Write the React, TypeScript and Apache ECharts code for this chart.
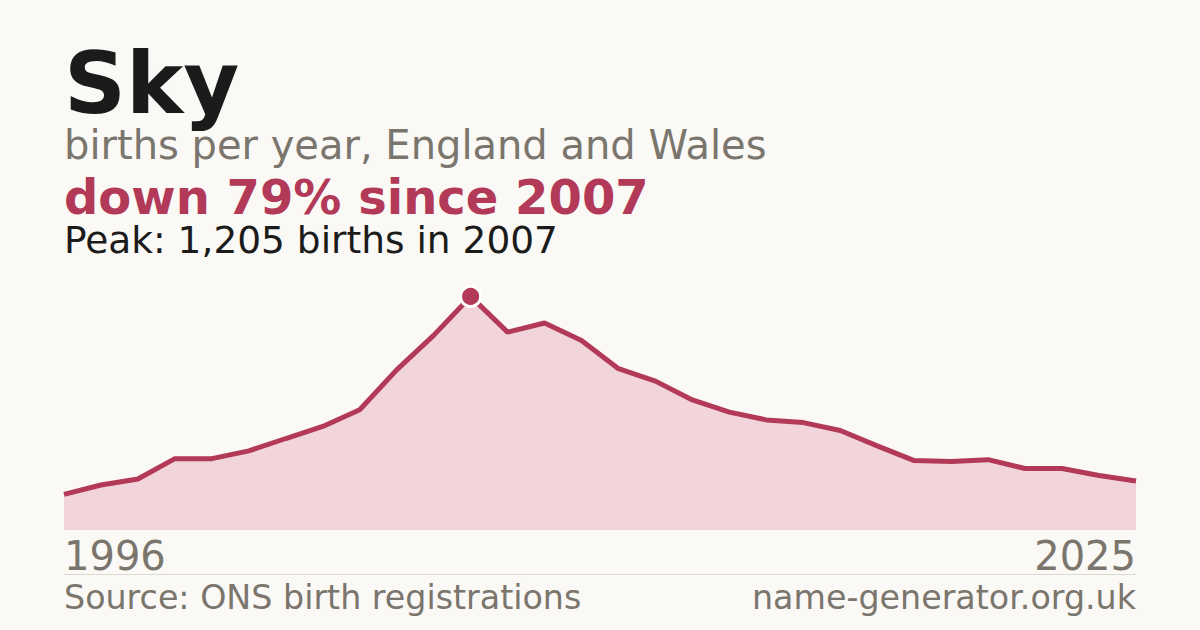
import { useEffect, useRef } from 'react';
import * as echarts from 'echarts';

const years = [
  '1996', '1997', '1998', '1999', '2000', '2001', '2002', '2003', '2004', '2005',
  '2006', '2007', '2008', '2009', '2010', '2011', '2012', '2013', '2014', '2015',
  '2016', '2017', '2018', '2019', '2020', '2021', '2022', '2023', '2024', '2025',
];
const births = [
  184, 232, 263, 368, 368, 408, 472, 534, 620, 826,
  1004, 1205, 1021, 1068, 978, 832, 768, 671, 608, 568,
  554, 513, 434, 358, 353, 363, 317, 317, 281, 253,
];

const titleText = 'Sky';
const subtitleText = 'births per year, England and Wales';
const changeText = 'down 79% since 2007';
const peakText = 'Peak: 1,205 births in 2007';
const sourceText = 'Source: ONS birth registrations';
const siteText = 'name-generator.org.uk';

const BG = '#faf9f5';
const RED = '#b23a58';
const FILL = '#f1d5da';
const INK = '#1b1b1b';
const GREY = '#7a756d';
const FONT = '"DejaVu Sans", sans-serif';

const App: React.FC = () => {
  const divRef = useRef<HTMLDivElement | null>(null);

  useEffect(() => {
    if (!divRef.current) return;
    const chart = echarts.init(divRef.current, null, { renderer: 'svg' });
    const last = years.length - 1;

    chart.setOption({
      animation: false,
      backgroundColor: BG,
      grid: { left: 64, right: 64, top: 278, bottom: 100 },
      xAxis: {
        type: 'category',
        data: years,
        boundaryGap: false,
        axisLine: { show: false },
        axisTick: { show: false },
        axisLabel: {
          interval: (i: number) => i === 0 || i === last,
          alignMinLabel: 'left',
          alignMaxLabel: 'right',
          margin: 6,
          fontSize: 40,
          fontFamily: FONT,
          color: GREY,
        },
      },
      yAxis: {
        type: 'value',
        min: 0,
        max: 1300,
        show: false,
        splitLine: { show: false },
      },
      series: [
        {
          type: 'line',
          data: births,
          showSymbol: false,
          lineStyle: { color: RED, width: 5 },
          areaStyle: { color: FILL, opacity: 1 },
          markPoint: {
            data: [{ type: 'max' }],
            symbol: 'circle',
            symbolSize: 20,
            itemStyle: { color: RED, borderColor: '#ffffff', borderWidth: 3 },
            label: { show: false },
          },
        },
      ],
      graphic: [
        {
          type: 'text', x: 64, y: 83,
          style: { text: titleText, font: `bold 86px ${FONT}`, fill: INK, verticalAlign: 'middle', lineHeight: 70 },
        },
        {
          type: 'text', x: 64, y: 145.2,
          style: { text: subtitleText, font: `40px ${FONT}`, fill: GREY, verticalAlign: 'middle', lineHeight: 34 },
        },
        {
          type: 'text', x: 64, y: 197.4,
          style: { text: changeText, font: `bold 48px ${FONT}`, fill: RED, verticalAlign: 'middle', lineHeight: 38 },
        },
        {
          type: 'text', x: 64, y: 240,
          style: { text: peakText, font: `37.5px ${FONT}`, fill: INK, verticalAlign: 'middle', lineHeight: 30 },
        },
        {
          type: 'line',
          shape: { x1: 64, y1: 574.5, x2: 1136, y2: 574.5 },
          style: { stroke: '#dedad3', lineWidth: 1 },
        },
        {
          type: 'text', x: 64, y: 597.5,
          style: { text: sourceText, font: `33.3px ${FONT}`, fill: GREY, verticalAlign: 'middle' },
        },
        {
          type: 'text', x: 1136, y: 597.5,
          style: { text: siteText, font: `33.3px ${FONT}`, fill: GREY, verticalAlign: 'middle', align: 'right' },
        },
      ],
    });

    return () => chart.dispose();
  }, []);

  return (
    <div
      ref={divRef}
      style={{ position: 'fixed', left: 0, top: 0, width: 1200, height: 630, background: BG }}
    />
  );
};

export default App;
